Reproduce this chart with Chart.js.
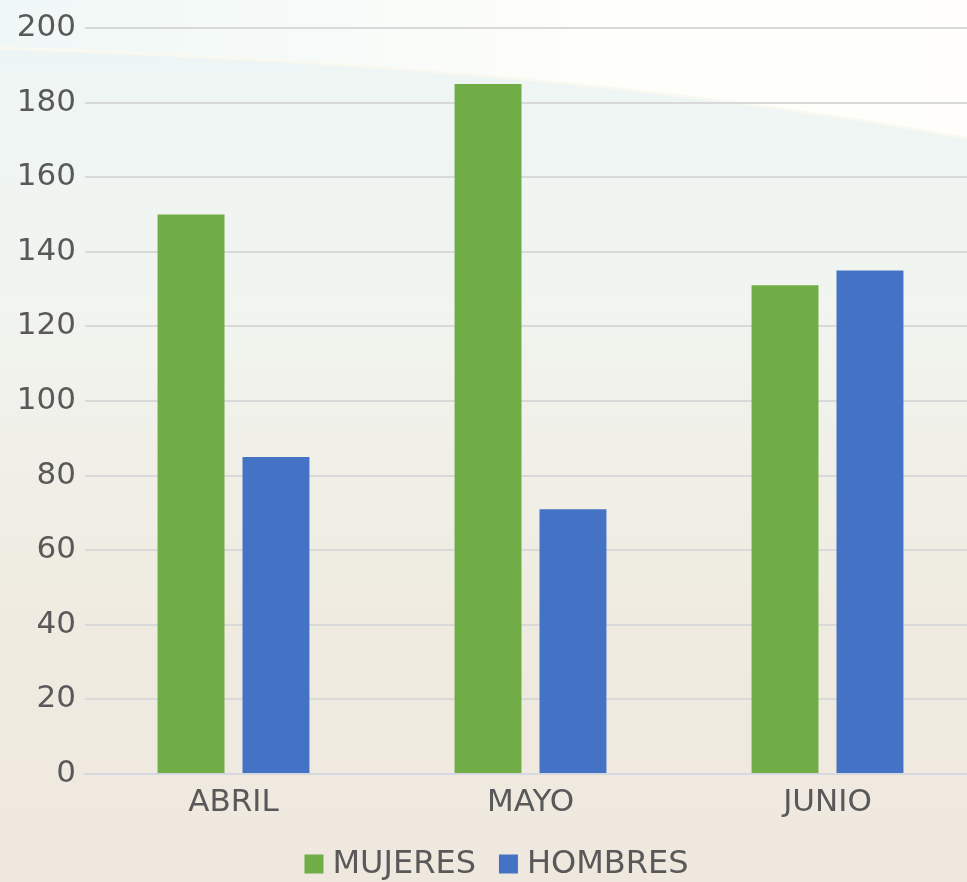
<!DOCTYPE html>
<html>
<head>
<meta charset="utf-8">
<script src="https://cdn.jsdelivr.net/npm/chart.js@4.4.1/dist/chart.umd.min.js"></script>
<style>
  html, body { margin: 0; padding: 0; overflow: hidden; background: #f1efe6; }
  #wrap { position: absolute; left: 0; top: 0; width: 976px; height: 882px; }
</style>
</head>
<body>
<div id="wrap"><canvas id="c" width="976" height="882"></canvas></div>
<script>
const categories = ['ABRIL', 'MAYO', 'JUNIO'];
const mujeres = [150, 185, 131];
const hombres = [85, 71, 135];
const yTicks = [0, 20, 40, 60, 80, 100, 120, 140, 160, 180, 200];

const bgPlugin = {
  id: 'bg',
  beforeDraw(chart) {
    const ctx = chart.ctx;
    const w = chart.width, h = chart.height;
    ctx.save();
    const g = ctx.createLinearGradient(0, 0, 0, h);
    g.addColorStop(0, '#edf6f6');
    g.addColorStop(0.35, '#f1f4ef');
    g.addColorStop(0.7, '#efebe0');
    g.addColorStop(1, '#efe8df');
    ctx.fillStyle = g;
    ctx.fillRect(0, 0, w, h);
    ctx.beginPath();
    ctx.moveTo(0, 0);
    ctx.lineTo(0, 48);
    ctx.bezierCurveTo(300, 58, 650, 80, w, 140);
    ctx.lineTo(w, 0);
    ctx.closePath();
    const g2 = ctx.createLinearGradient(0, 0, w, 0);
    g2.addColorStop(0, 'rgba(240,248,247,0.8)');
    g2.addColorStop(0.6, 'rgba(254,254,250,1)');
    g2.addColorStop(1, 'rgba(255,254,250,1)');
    ctx.fillStyle = g2;
    ctx.fill();
    ctx.beginPath();
    ctx.moveTo(0, 48);
    ctx.bezierCurveTo(300, 58, 650, 80, w, 140);
    ctx.strokeStyle = 'rgba(250,248,240,0.9)';
    ctx.lineWidth = 3;
    ctx.stroke();
    ctx.restore();
  }
};

// Legend drawn from the dataset labels/colours, laid out like the reference
const legendPlugin = {
  id: 'customLegend',
  afterDraw(chart) {
    const ctx = chart.ctx;
    ctx.save();
    ctx.font = '32px "DejaVu Sans"';
    ctx.textBaseline = 'middle';
    ctx.textAlign = 'left';
    const box = 19, gapText = 9, gapItem = 23;
    const items = chart.data.datasets.map(d => ({ label: d.label, color: d.backgroundColor, w: ctx.measureText(d.label).width }));
    let total = 0;
    items.forEach((it, i) => { total += box + gapText + it.w + (i < items.length - 1 ? gapItem : 0); });
    let x = 496.5 - total / 2;
    const cy = 864;
    items.forEach(it => {
      ctx.fillStyle = it.color;
      ctx.fillRect(x, cy - box / 2, box, box);
      x += box + gapText;
      ctx.fillStyle = '#595959';
      ctx.fillText(it.label, x, cy + 1);
      x += it.w + gapItem;
    });
    ctx.restore();
  }
};

new Chart(document.getElementById('c'), {
  type: 'bar',
  data: {
    labels: categories,
    datasets: [
      { label: 'MUJERES', data: mujeres, backgroundColor: '#70ad47', barPercentage: 0.788, categoryPercentage: 0.572 },
      { label: 'HOMBRES', data: hombres, backgroundColor: '#4472c4', barPercentage: 0.788, categoryPercentage: 0.572 }
    ]
  },
  options: {
    responsive: false,
    animation: false,
    layout: { padding: { top: 28, right: 0, left: 0, bottom: 48 } },
    plugins: {
      legend: { display: false },
      tooltip: { enabled: false }
    },
    scales: {
      x: {
        afterFit(axis) { axis.height = 60; },
        grid: { display: false, drawTicks: false },
        border: { display: true, color: '#d5d8de', width: 2 },
        ticks: { color: '#595959', font: { family: 'DejaVu Sans', size: 31 }, padding: 10 }
      },
      y: {
        min: 0, max: 200,
        afterBuildTicks(axis) { axis.ticks = yTicks.map(v => ({ value: v })); },
        afterFit(axis) { axis.width = 85; },
        grid: { color: '#d9d9d9', lineWidth: 2, drawTicks: false },
        border: { display: false },
        ticks: { color: '#595959', font: { family: 'DejaVu Sans', size: 31 }, padding: 9 }
      }
    }
  },
  plugins: [bgPlugin, legendPlugin]
});
</script>
</body>
</html>
